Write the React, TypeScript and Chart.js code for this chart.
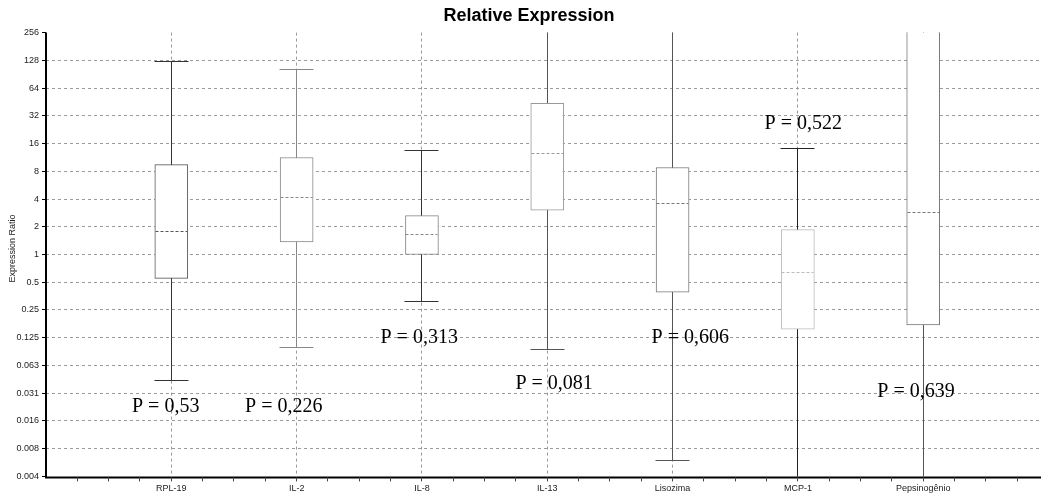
import React, { useEffect, useRef } from 'react';
import { Chart, registerables } from 'chart.js';

Chart.register(...registerables);

// ---- data ----
const categories = ['RPL-19', 'IL-2', 'IL-8', 'IL-13', 'Lisozima', 'MCP-1', 'Pepsinogênio'];
const whiskerMin = [0.0433, 0.099, 0.308, 0.094, 0.0058, 0.002, 0.002];
const q1 = [0.55, 1.37, 1.0, 3.02, 0.39, 0.155, 0.172];
const median = [1.79, 4.17, 1.63, 12.5, 3.6, 0.64, 2.89];
const q3 = [9.45, 11.3, 2.64, 43.7, 8.8, 1.86, 400];
const whiskerMax = [123, 101, 13.4, 400, 400, 14.3, 500];

const yTickValues = [256, 128, 64, 32, 16, 8, 4, 2, 1, 0.5, 0.25, 0.125, 0.0625, 0.03125, 0.015625, 0.0078125, 0.00390625];
const yTickLabels = ['256', '128', '64', '32', '16', '8', '4', '2', '1', '0.5', '0.25', '0.125', '0.063', '0.031', '0.016', '0.008', '0.004'];

const pLabels = ['P = 0,53', 'P = 0,226', 'P = 0,313', 'P = 0,081', 'P = 0,606', 'P = 0,522', 'P = 0,639'];
const pX = [0.955, 1.897, 2.978, 4.055, 5.141, 6.043, 6.943];
const pY = [0.0197, 0.0197, 0.1088, 0.0347, 0.1088, 22.85, 0.0284];

// ---- styles ----
const boxBorder = ['#555555', '#888888', '#888888', '#999999', '#777777', '#bbbbbb', '#777777'];
const whiskerColor = ['#333333', '#888888', '#333333', '#555555', '#555555', '#222222', '#555555'];

const align = (p: number) => Math.round(p - 0.5) + 0.5;

const boxPlugin = {
  id: 'boxExtras',
  beforeDatasetsDraw(chart: any) {
    const { ctx, chartArea: a, scales } = chart;
    const x = scales.x, y = scales.y;
    ctx.save();
    ctx.beginPath();
    ctx.rect(a.left, a.top, a.right - a.left, a.bottom - a.top);
    ctx.clip();
    categories.forEach((_, i) => {
      const px = align(x.getPixelForValue(i + 1));
      const yMin = y.getPixelForValue(whiskerMin[i]);
      const yMax = y.getPixelForValue(whiskerMax[i]);
      ctx.strokeStyle = whiskerColor[i];
      ctx.lineWidth = 1;
      ctx.setLineDash([]);
      ctx.beginPath();
      ctx.moveTo(px, yMin);
      ctx.lineTo(px, yMax);
      ctx.stroke();
      [yMin, yMax].forEach((py) => {
        const ry = align(py);
        ctx.beginPath();
        ctx.moveTo(px - 17, ry);
        ctx.lineTo(px + 17, ry);
        ctx.stroke();
      });
    });
    ctx.restore();
  },
  afterDatasetsDraw(chart: any) {
    const { ctx, chartArea: a, scales } = chart;
    const x = scales.x, y = scales.y;
    ctx.save();
    // medians
    ctx.save();
    ctx.beginPath();
    ctx.rect(a.left, a.top, a.right - a.left, a.bottom - a.top);
    ctx.clip();
    categories.forEach((_, i) => {
      const px = align(x.getPixelForValue(i + 1));
      const my = align(y.getPixelForValue(median[i]));
      ctx.strokeStyle = boxBorder[i];
      ctx.lineWidth = 1;
      ctx.setLineDash([3, 2]);
      ctx.beginPath();
      ctx.moveTo(px - 16, my);
      ctx.lineTo(px + 16, my);
      ctx.stroke();
    });
    ctx.restore();

    // axes
    ctx.setLineDash([]);
    ctx.strokeStyle = '#000';
    ctx.lineWidth = 2;
    ctx.beginPath();
    ctx.moveTo(a.left, a.top);
    ctx.lineTo(a.left, a.bottom + 1);
    ctx.lineTo(a.right, a.bottom + 1);
    ctx.stroke();

    // y tick marks
    ctx.lineWidth = 1;
    yTickValues.forEach((v) => {
      const ty = align(y.getPixelForValue(v));
      ctx.beginPath();
      ctx.moveTo(a.left - 4, ty);
      ctx.lineTo(a.left, ty);
      ctx.stroke();
    });
    // x minor ticks
    ctx.strokeStyle = '#444';
    for (let v = 0.25; v < x.max; v += 0.25) {
      const tx = align(x.getPixelForValue(v));
      ctx.beginPath();
      ctx.moveTo(tx, a.bottom + 1);
      ctx.lineTo(tx, a.bottom + 5);
      ctx.stroke();
    }

    // P annotations
    ctx.fillStyle = '#000';
    ctx.font = '20px "Liberation Serif", "Times New Roman", serif';
    ctx.textAlign = 'center';
    ctx.textBaseline = 'alphabetic';
    pLabels.forEach((t, i) => {
      ctx.fillText(t, x.getPixelForValue(pX[i]), y.getPixelForValue(pY[i]));
    });

    // title
    ctx.font = 'bold 18px "Liberation Sans", Arial, sans-serif';
    ctx.textBaseline = 'middle';
    ctx.fillText('Relative Expression', 529, 16);

    // y-axis title
    ctx.save();
    ctx.translate(13, 248.5);
    ctx.rotate(-Math.PI / 2);
    ctx.font = '9px "Liberation Sans", Arial, sans-serif';
    ctx.fillStyle = '#222';
    ctx.fillText('Expression Ratio', 0, 0);
    ctx.restore();

    ctx.restore();
  },
};

export default function App() {
  const ref = useRef<HTMLCanvasElement>(null);
  useEffect(() => {
    if (!ref.current) return;
    const labelMap = new Map<number, string>();
    yTickValues.forEach((v, i) => labelMap.set(v, yTickLabels[i]));
    const chart = new Chart(ref.current, {
      type: 'bar',
      data: {
        datasets: [
          {
            data: categories.map((_, i) => ({ x: i + 1, y: [q1[i], q3[i]] })) as any,
            backgroundColor: '#ffffff',
            borderColor: boxBorder,
            borderWidth: 1,
            borderSkipped: false,
            barThickness: 33,
            clip: 0,
          } as any,
        ],
      },
      options: {
        responsive: false,
        animation: false,
        layout: { padding: { top: 32.6, left: 0, right: 0, bottom: 0 } },
        plugins: {
          legend: { display: false },
          title: { display: false },
          tooltip: { enabled: false },
        },
        scales: {
          x: {
            type: 'linear',
            min: 0,
            max: 7.94,
            offset: false,
            afterBuildTicks: (scale: any) => {
              scale.ticks = categories.map((_, i) => ({ value: i + 1 }));
            },
            afterFit: (scale: any) => {
              scale.height = 19.6;
            },
            ticks: {
              autoSkip: false,
              maxRotation: 0,
              padding: 7,
              color: '#222',
              font: { family: '"Liberation Sans", Arial, sans-serif', size: 9 },
              callback: (v: any) => categories[Number(v) - 1] ?? '',
            },
            grid: { offset: false, color: '#9a9a9a', drawTicks: false, lineWidth: 1 },
            border: { display: false, dash: [3, 3] },
          },
          y: {
            type: 'logarithmic',
            min: 0.00390625,
            max: 256,
            afterBuildTicks: (scale: any) => {
              scale.ticks = [...yTickValues].reverse().map((v) => ({ value: v }));
            },
            afterFit: (scale: any) => {
              scale.width = 46;
            },
            ticks: {
              autoSkip: false,
              padding: 7,
              color: '#222',
              font: { family: '"Liberation Sans", Arial, sans-serif', size: 9 },
              callback: (v: any) => labelMap.get(Number(v)) ?? '',
            },
            grid: {
              drawTicks: false,
              lineWidth: 1,
              color: (c: any) => (c.tick && (c.tick.value === 256 || c.tick.value === 0.00390625) ? 'rgba(0,0,0,0)' : '#9a9a9a'),
            },
            border: { display: false, dash: [3, 3] },
          },
        },
      } as any,
      plugins: [boxPlugin],
    });
    return () => chart.destroy();
  }, []);
  return (
    <div style={{ position: 'fixed', left: 0, top: 0, width: 1041, height: 496, background: '#fff' }}>
      <canvas ref={ref} width={1041} height={496} style={{ display: 'block' }} />
    </div>
  );
}
